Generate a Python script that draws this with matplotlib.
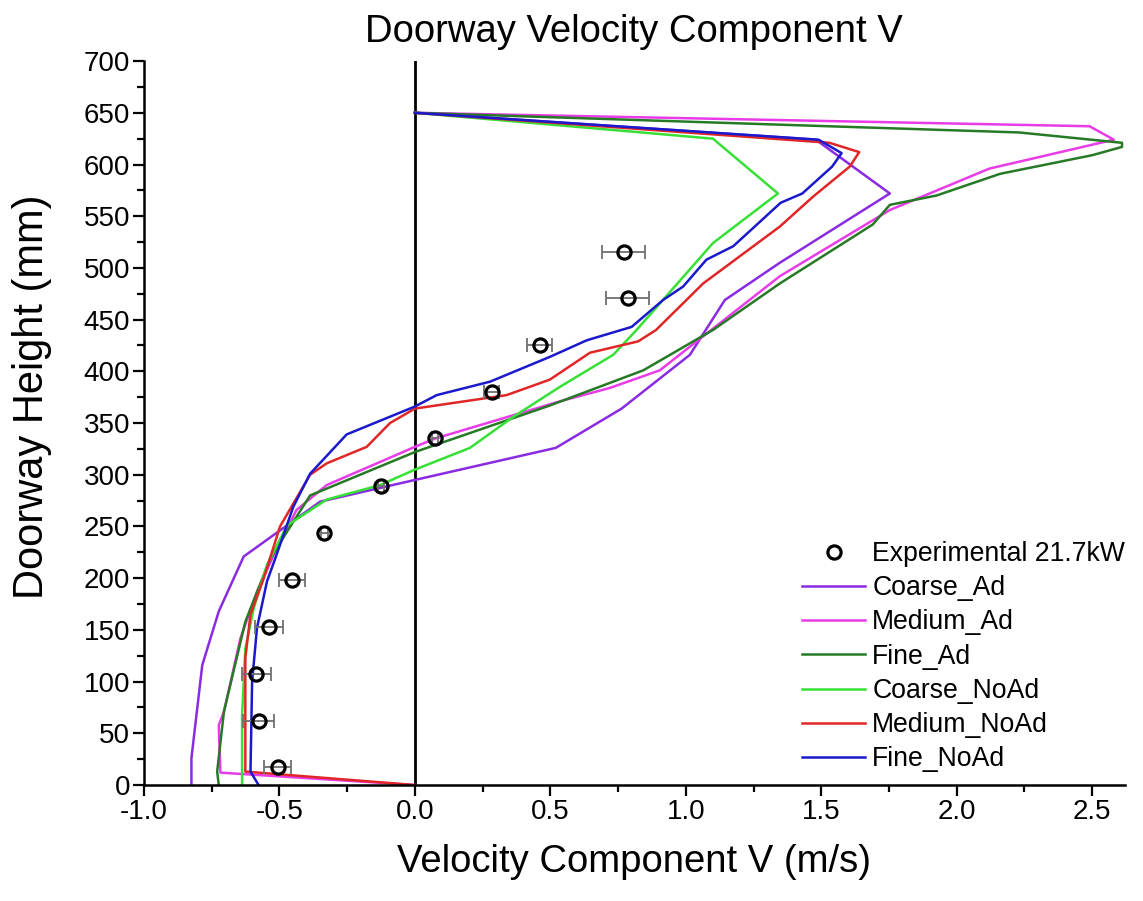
import numpy as np
import matplotlib
matplotlib.use("Agg")
import matplotlib.pyplot as plt
from matplotlib.ticker import MultipleLocator, FormatStrFormatter

plt.rcParams['font.family'] = ['Liberation Sans', 'DejaVu Sans']

# experimental profile (21.7 kW)
exp_y = [17, 62, 107, 153, 198, 244, 289, 336, 380, 425, 471, 515]
exp_v = [-0.507, -0.577, -0.585, -0.54, -0.454, -0.334, -0.126, 0.074, 0.283, 0.461, 0.785, 0.771]
exp_err = [0.051, 0.058, 0.052, 0.052, 0.047, 0.012, 0.012, 0.012, 0.028, 0.046, 0.079, 0.079]

# simulated profiles, bottom of doorway to top
coarse_ad_v = [-0.825, -0.825, -0.785, -0.724, -0.632, -0.35, 0.0, 0.52, 0.763, 1.015, 1.144, 1.347, 1.753, 1.48, 0.0]
coarse_ad_y = [0, 26, 116, 168, 221, 274, 295, 326, 364, 416, 469, 505, 572, 624, 650]

medium_ad_v = [0.0, -0.718, -0.724, -0.705, -0.644, -0.583, -0.52, -0.437, -0.326, 0.0, 0.074, 0.535, 0.72,
               0.904, 1.04, 1.347, 1.753, 1.90, 2.12, 2.58, 2.49, 0.0]
medium_ad_y = [0, 12, 58, 71, 142, 187, 223, 266, 290, 327, 335, 371, 384, 401, 429, 492, 556, 572, 596, 624, 637, 650]

fine_ad_v = [-0.724, -0.73, -0.705, -0.626, -0.534, -0.46, -0.387, 0.0, 0.498, 0.843, 1.10, 1.347, 1.69, 1.753,
             1.925, 2.16, 2.50, 2.61, 2.61, 2.23, 0.0]
fine_ad_y = [0, 13, 71, 158, 219, 250, 280, 322, 367, 401, 440, 485, 542, 561, 570, 591, 609, 617, 621, 631, 650]

coarse_noad_v = [-0.638, -0.638, -0.626, -0.595, -0.546, -0.472, -0.326, -0.129, 0.0, 0.203, 0.363, 0.535, 0.732,
                 0.818, 1.10, 1.34, 1.10, 0.0]
coarse_noad_y = [0, 68, 132, 171, 213, 251, 276, 290, 305, 326, 356, 385, 416, 440, 524, 572, 625, 650]

medium_noad_v = [0.0, -0.626, -0.626, -0.607, -0.558, -0.498, -0.387, -0.326, -0.178, -0.092, 0.0, 0.338, 0.498,
                 0.646, 0.824, 0.89, 1.064, 1.347, 1.47, 1.605, 1.64, 1.53, 0.0]
medium_noad_y = [0, 13, 123, 165, 200, 250, 300, 311, 327, 350, 364, 377, 392, 418, 429, 440, 485, 540, 569, 598,
                 612, 621, 650]

fine_noad_v = [-0.577, -0.607, -0.601, -0.583, -0.546, -0.517, -0.449, -0.387, -0.252, 0.0, 0.08, 0.277, 0.498,
               0.634, 0.80, 0.916, 0.99, 1.076, 1.175, 1.35, 1.43, 1.54, 1.575, 1.49, 0.0]
fine_noad_y = [0, 13, 100, 152, 197, 218, 269, 301, 339, 366, 377, 390, 414, 430, 443, 469, 482, 508, 521, 563,
               572, 598, 611, 624, 650]

series = [
    ("Coarse_Ad", coarse_ad_v, coarse_ad_y, "#8A2BE2"),
    ("Medium_Ad", medium_ad_v, medium_ad_y, "#E83CE8"),
    ("Fine_Ad", fine_ad_v, fine_ad_y, "#267A26"),
    ("Coarse_NoAd", coarse_noad_v, coarse_noad_y, "#36E036"),
    ("Medium_NoAd", medium_noad_v, medium_noad_y, "#E02626"),
    ("Fine_NoAd", fine_noad_v, fine_noad_y, "#1A1ACC"),
]

fig = plt.figure(figsize=(11.43, 9.01), dpi=100)
ax = fig.add_axes([0.126, 0.1287, 0.858, 0.8035])

ax.axvline(0, color="black", lw=2.0, zorder=1)

handles = []
for name, v, y, c in series:
    ln, = ax.plot(v, y, color=c, lw=1.8, label=name, zorder=2)
    handles.append(ln)

ax.errorbar(exp_v, exp_y, xerr=exp_err, fmt="none", ecolor="#707070", elinewidth=1.3,
            capsize=5, capthick=1.3, zorder=3)
pts, = ax.plot(exp_v, exp_y, "o", ms=9.5, mfc="none", mec="black", mew=2.3,
               label="Experimental 21.7kW", zorder=4)

ax.set_xlim(-1.0, 2.62)
ax.set_ylim(0, 700)
ax.xaxis.set_major_locator(MultipleLocator(0.5))
ax.xaxis.set_minor_locator(MultipleLocator(0.25))
ax.xaxis.set_major_formatter(FormatStrFormatter("%.1f"))
ax.yaxis.set_major_locator(MultipleLocator(50))
ax.yaxis.set_minor_locator(MultipleLocator(25))

for s in ["top", "right"]:
    ax.spines[s].set_visible(False)
for s in ["left", "bottom"]:
    ax.spines[s].set_linewidth(1.8)

ax.tick_params(which="major", direction="out", length=8, width=1.6, labelsize=20, pad=2)
ax.tick_params(which="minor", direction="out", length=5, width=1.6)

ax.set_title("Doorway Velocity Component V", fontsize=27.5, pad=14)
ax.set_xlabel("Velocity Component V (m/s)", fontsize=27.5, labelpad=14)
ax.set_ylabel("Doorway Height (mm)", fontsize=30)
ax.yaxis.set_label_coords(-0.094, 0.536)

ax.legend([pts] + handles, ["Experimental 21.7kW"] + [h.get_label() for h in handles],
          loc="lower left", bbox_to_anchor=(0.6656, 0.01), frameon=False, fontsize=19.2,
          handlelength=2.36, handletextpad=0.27, labelspacing=0.31, borderpad=0.2,
          borderaxespad=0)

fig.savefig("out.png", dpi=100)
